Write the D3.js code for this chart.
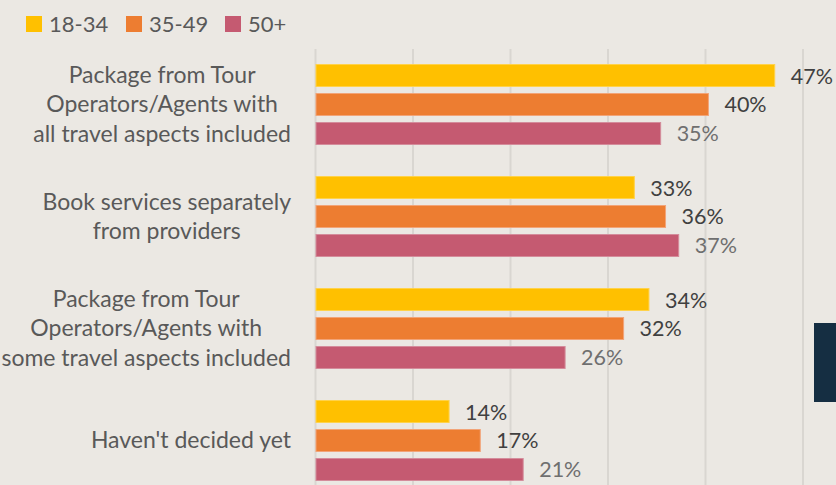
<!DOCTYPE html>
<html>
<head>
<meta charset="utf-8">
<script src="https://cdn.jsdelivr.net/npm/d3@7"></script>
<style>
  html, body { margin: 0; padding: 0; background: #ebe8e3; }
  svg { display: block; }
  text { font-family: Lato, "Open Sans", sans-serif; }
</style>
</head>
<body>
<svg id="chart" width="836" height="485"></svg>
<script>
// ---- data ----
const categories = [
  "Package from Tour|Operators/Agents with|all travel aspects included",
  "Book services separately|from providers",
  "Package from Tour|Operators/Agents with|some travel aspects included",
  "Haven't decided yet"
];
const seriesNames = ["18-34", "35-49", "50+"];
const values1834 = [47.1, 32.7, 34.2, 13.7];
const values3549 = [40.3, 35.9, 31.6, 16.9];
const values50plus = [35.4, 37.25, 25.6, 21.3];
const tickValues = [0, 10, 20, 30, 40, 50];

const seriesValues = [values1834, values3549, values50plus];
const colors = ["#FFC000", "#ED7D31", "#C55A71"];
const strokes = ["#ffd24a", "#f2a478", "#d48c9b"];
const labelColors = ["#404040", "#404040", "#6f6f6f"];

const W = 836, H = 485;
const svg = d3.select("#chart");
svg.append("rect").attr("width", W).attr("height", H).attr("fill", "#ebe8e3");

const x = d3.scaleLinear().domain([0, 50]).range([315.5, 803]);
const y = d3.scaleBand().domain(categories).range([48.5, 496.5])
  .paddingInner(0.277).paddingOuter(0.1385);
const ySub = d3.scaleBand().domain(seriesNames).range([0, y.bandwidth()])
  .paddingInner(0.207).paddingOuter(0);

// gridlines
svg.append("g").selectAll("line").data(tickValues).join("line")
  .attr("x1", d => x(d)).attr("x2", d => x(d))
  .attr("y1", 49).attr("y2", H)
  .attr("stroke", "#d9d6d1").attr("stroke-width", 2);

// bars
const groups = svg.append("g").selectAll("g").data(categories).join("g")
  .attr("transform", c => `translate(0,${y(c)})`);

const labelRight = 291;

groups.each(function(c, ci) {
  const g = d3.select(this);
  seriesNames.forEach((s, si) => {
    const v = seriesValues[si][ci];
    g.append("rect")
      .attr("x", x(0) + 0.5)
      .attr("y", ySub(s) + 0.5)
      .attr("width", x(v) - x(0) - 0.5)
      .attr("height", ySub.bandwidth() - 1)
      .attr("fill", colors[si])
      .attr("stroke", strokes[si])
      .attr("stroke-width", 1);
    g.append("text")
      .attr("x", x(v) + 16)
      .attr("y", ySub(s) + ySub.bandwidth() / 2 + 8)
      .attr("font-size", 21.5)
      .attr("fill", labelColors[si])
      .text(Math.round(v) + "%");
  });
  // category label (block centred, widest line flush at labelRight)
  const lines = c.split("|");
  const cy = y.bandwidth() / 2;
  const lh = 29.5;
  const t = g.append("text")
    .attr("text-anchor", "middle")
    .attr("font-size", 23)
    .attr("fill", "#595959");
  const spans = lines.map((ln, li) => t.append("tspan")
      .attr("y", cy + 8 + (li - (lines.length - 1) / 2) * lh)
      .text(ln));
  const maxW = d3.max(spans, sp => sp.node().getComputedTextLength());
  spans.forEach(sp => sp.attr("x", labelRight - maxW / 2));
});

// legend
const legendX = [26, 126, 225];
const leg = svg.append("g").selectAll("g").data(seriesNames).join("g")
  .attr("transform", (d, i) => `translate(${legendX[i]},16)`);
leg.append("rect").attr("width", 16).attr("height", 16)
  .attr("fill", (d, i) => colors[i]);
leg.append("text").attr("x", 23).attr("y", 16)
  .attr("font-size", 22).attr("fill", "#595959").text(d => d);

// decorative dark panel at right edge
svg.append("rect").attr("x", 814).attr("y", 323).attr("width", 22).attr("height", 79)
  .attr("fill", "#152e42");
</script>
</body>
</html>
